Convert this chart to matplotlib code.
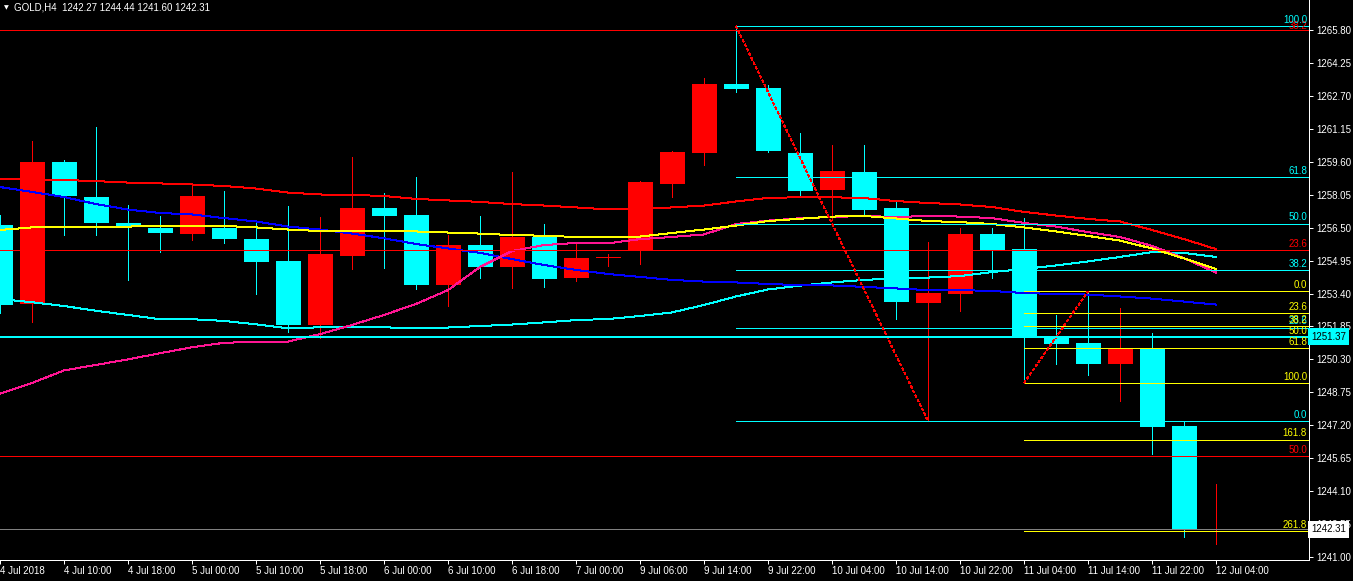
import matplotlib
matplotlib.use("Agg")
import matplotlib.pyplot as plt
from matplotlib.transforms import blended_transform_factory

# ---------------- data ----------------
header_text = "GOLD,H4  1242.27 1244.44 1241.60 1242.31"

opens = [1256.62, 1252.92, 1259.59, 1257.94, 1256.72, 1256.48, 1256.21, 1256.48, 1255.96, 1254.93,
         1251.93, 1255.18, 1257.42, 1257.09, 1253.81, 1255.68, 1254.66, 1256.06, 1254.14, 1255.05,
         1255.45, 1258.57, 1260.01, 1263.26, 1263.07, 1260.01, 1258.27, 1259.12, 1257.42, 1252.95,
         1253.39, 1256.20, 1255.49, 1251.34, 1251.07, 1250.10, 1250.79, 1247.16, 1242.27]
highs = [1257.10, 1260.58, 1259.68, 1261.24, 1257.56, 1257.05, 1258.55, 1258.22, 1256.72, 1257.52,
         1257.00, 1259.82, 1258.13, 1258.88, 1256.15, 1257.05, 1259.12, 1256.67, 1255.73, 1255.26,
         1258.69, 1260.10, 1263.54, 1265.98, 1263.21, 1260.95, 1260.39, 1260.39, 1257.75, 1255.82,
         1256.48, 1256.48, 1256.95, 1252.39, 1253.48, 1252.72, 1251.54, 1247.35, 1244.44]
lows = [1252.50, 1252.07, 1256.15, 1256.15, 1254.05, 1255.37, 1255.93, 1255.79, 1253.39, 1251.60,
        1251.32, 1254.57, 1254.61, 1253.63, 1252.83, 1254.14, 1253.67, 1253.72, 1254.00, 1254.71,
        1254.80, 1257.96, 1259.45, 1262.88, 1260.08, 1257.96, 1256.86, 1257.09, 1252.20, 1247.40,
        1252.59, 1254.14, 1249.19, 1250.10, 1249.58, 1248.36, 1245.86, 1241.96, 1241.60]
closes = [1252.86, 1259.59, 1258.00, 1256.73, 1256.58, 1256.25, 1257.99, 1255.96, 1254.88, 1251.93,
          1255.26, 1257.42, 1257.06, 1253.81, 1255.68, 1254.66, 1256.06, 1254.10, 1255.07, 1255.07,
          1258.65, 1260.06, 1263.26, 1263.02, 1260.12, 1258.22, 1259.16, 1257.33, 1253.00, 1253.42,
          1256.20, 1255.45, 1251.35, 1251.02, 1250.10, 1250.79, 1247.12, 1242.30, 1242.31]

time_labels = ["4 Jul 2018", "4 Jul 10:00", "4 Jul 18:00", "5 Jul 00:00", "5 Jul 10:00",
               "5 Jul 18:00", "6 Jul 00:00", "6 Jul 10:00", "6 Jul 18:00", "7 Jul 00:00",
               "9 Jul 06:00", "9 Jul 14:00", "9 Jul 22:00", "10 Jul 04:00", "10 Jul 14:00",
               "10 Jul 22:00", "11 Jul 04:00", "11 Jul 14:00", "11 Jul 22:00", "12 Jul 04:00"]

price_ticks = [1241.00, 1242.55, 1244.10, 1245.65, 1247.20, 1248.75, 1250.30, 1251.85, 1253.40,
               1254.95, 1256.50, 1258.05, 1259.60, 1261.15, 1262.70, 1264.25, 1265.80]

ma_red = [1258.79, 1258.76, 1258.74, 1258.69, 1258.62, 1258.58, 1258.53, 1258.46, 1258.34, 1258.15,
          1258.06, 1258.04, 1257.99, 1257.85, 1257.78, 1257.71, 1257.61, 1257.54, 1257.45, 1257.36,
          1257.39, 1257.45, 1257.54, 1257.73, 1257.90, 1257.93, 1257.93, 1257.89, 1257.75, 1257.66,
          1257.59, 1257.47, 1257.24, 1257.07, 1256.91, 1256.79, 1256.39, 1255.96, 1255.49]
ma_yellow = [1256.39, 1256.51, 1256.53, 1256.55, 1256.55, 1256.58, 1256.58, 1256.58, 1256.51, 1256.41,
             1256.34, 1256.36, 1256.36, 1256.32, 1256.27, 1256.22, 1256.15, 1256.12, 1256.06, 1256.04,
             1256.08, 1256.25, 1256.41, 1256.60, 1256.81, 1256.92, 1257.02, 1257.05, 1256.93, 1256.81,
             1256.76, 1256.67, 1256.51, 1256.32, 1256.11, 1255.89, 1255.52, 1255.05, 1254.55]
ma_pink = [1248.69, 1249.19, 1249.78, 1250.04, 1250.30, 1250.59, 1250.87, 1251.08, 1251.13, 1251.14,
           1251.49, 1251.92, 1252.39, 1252.91, 1253.56, 1254.65, 1255.40, 1255.68, 1255.78, 1255.76,
           1255.96, 1256.06, 1256.18, 1256.67, 1256.83, 1256.94, 1257.00, 1257.05, 1257.00, 1257.05,
           1257.02, 1256.95, 1256.72, 1256.55, 1256.29, 1256.06, 1255.64, 1255.06, 1254.39]
ma_blue = [1258.41, 1258.18, 1257.94, 1257.61, 1257.35, 1257.19, 1257.12, 1256.95, 1256.79, 1256.55,
           1256.41, 1256.22, 1256.00, 1255.73, 1255.52, 1255.31, 1255.02, 1254.74, 1254.51, 1254.32,
           1254.18, 1254.04, 1253.96, 1253.92, 1253.85, 1253.79, 1253.78, 1253.71, 1253.64, 1253.56,
           1253.56, 1253.52, 1253.42, 1253.38, 1253.35, 1253.26, 1253.16, 1253.02, 1252.88]
ma_cyan = [1253.14, 1252.99, 1252.81, 1252.59, 1252.39, 1252.19, 1252.19, 1252.11, 1251.95, 1251.76,
           1251.81, 1251.81, 1251.81, 1251.76, 1251.80, 1251.87, 1251.94, 1252.04, 1252.15, 1252.20,
           1252.34, 1252.51, 1252.86, 1253.26, 1253.59, 1253.77, 1253.92, 1254.04, 1254.11, 1254.15,
           1254.22, 1254.41, 1254.55, 1254.72, 1254.91, 1255.12, 1255.35, 1255.31, 1255.12]

red_levels = [1265.80, 1255.45, 1245.75]
red_level_labels = ["38.2", "23.6", "50.0"]
cyan_level = 1251.37
bid_price = 1242.31

fib1_bars = (23, 29)
fib1_high, fib1_low = 1265.98, 1247.40
fib1_ratios = [0.0, 23.6, 38.2, 50.0, 61.8, 100.0]

fib2_bars = (32, 34)
fib2_low, fib2_high = 1249.19, 1253.50
fib2_ratios = [0.0, 23.6, 38.2, 50.0, 61.8, 100.0, 161.8, 261.8]

# ---------------- style ----------------
W, H, DPI = 1353, 581, 100
PX = 0.72  # one pixel in points
BULL, BEAR = "#FF0000", "#00FFFF"
FONT = "Liberation Sans"
FS = 7.0

plt.rcParams["lines.antialiased"] = False
plt.rcParams["patch.antialiased"] = False
plt.rcParams["lines.scale_dashes"] = False
plt.rcParams["font.family"] = [FONT, "DejaVu Sans"]

fig = plt.figure(figsize=(W / DPI, H / DPI), dpi=DPI, facecolor="black")
ax = fig.add_axes([0, 21 / H, 1309 / W, 560 / H], facecolor="black")

px_per_bar = 32.0
ax.set_xlim(0, 1309 / px_per_bar)
ax.set_ylim(1240.859, 1267.212)

n = len(opens)
xs = list(range(n))

# candles
for i in xs:
    o, h, l, c = opens[i], highs[i], lows[i], closes[i]
    col = BULL if c >= o else BEAR
    ax.vlines(i, l, h, color=col, lw=PX, zorder=2)
    bottom = min(o, c)
    height = max(abs(c - o), 0.07)
    ax.bar(i, height, bottom=bottom, width=25 / px_per_bar, color=col, linewidth=0, zorder=2)

# moving averages
for series, col in [(ma_cyan, "#00FFFF"), (ma_blue, "#0000FF"), (ma_pink, "#FF1493"),
                    (ma_yellow, "#FFFF00"), (ma_red, "#FF0000")]:
    ax.plot(xs, series, color=col, lw=PX, zorder=3)

label_x = 1307 / px_per_bar
right_x = 1309 / px_per_bar


def level_label(y, text, col):
    ax.annotate(text, (label_x, y), xytext=(0, 1), textcoords="offset points",
                ha="right", va="bottom", color=col, fontsize=FS, zorder=6)


# full-width red lines
for y, t in zip(red_levels, red_level_labels):
    ax.hlines(y, 0, right_x, color="#FF0000", lw=PX, zorder=4)
    level_label(y - 0.12 if t == "38.2" else y, t, "#FF0000")

DOT = (0, (1.6, 1.6))

# cyan fib retracement
x0 = fib1_bars[0]
for r in fib1_ratios:
    y = fib1_low + r / 100.0 * (fib1_high - fib1_low)
    ax.hlines(y, x0, right_x, color="#00FFFF", lw=PX, zorder=4)
    level_label(y, f"{r:.1f}", "#00FFFF")
ax.plot(fib1_bars, [fib1_high, fib1_low], color="#FF0000", lw=PX, ls=DOT, zorder=4)

# yellow fib expansion
x0 = fib2_bars[0]
for r in fib2_ratios:
    y = fib2_high - r / 100.0 * (fib2_high - fib2_low)
    ax.hlines(y, x0, right_x, color="#FFFF00", lw=PX, zorder=4)
    level_label(y, f"{r:.1f}", "#FFFF00")
ax.plot(fib2_bars, [fib2_low, fib2_high], color="#FF0000", lw=PX, ls=DOT, zorder=4)

# cyan horizontal level and bid line
ax.hlines(cyan_level, 0, right_x, color="#00FFFF", lw=2 * PX, zorder=4)
ax.hlines(bid_price, 0, right_x, color="#808080", lw=PX, zorder=4)

# axes
for s in ["top", "left"]:
    ax.spines[s].set_visible(False)
for s in ["right", "bottom"]:
    ax.spines[s].set_color("white")
    ax.spines[s].set_linewidth(PX)

ax.yaxis.tick_right()
ax.set_yticks(price_ticks)
ax.set_yticklabels([f"{p:.2f}" for p in price_ticks])
ax.tick_params(axis="y", colors="white", labelcolor="white", labelsize=FS, length=3,
               width=PX, direction="out", pad=2)
ax.set_xticks(xs[::2])
ax.set_xticklabels(time_labels)
ax.tick_params(axis="x", colors="white", labelcolor="white", labelsize=FS, length=3,
               width=PX, direction="out", pad=1.5)
for lbl in ax.get_xticklabels():
    lbl.set_ha("left")

# price boxes on the scale
bt = blended_transform_factory(ax.transAxes, ax.transData)
ax.text(1.0015, cyan_level, f"{cyan_level:.2f}", transform=bt, ha="left", va="center",
        color="black", fontsize=FS, zorder=7, clip_on=False,
        bbox=dict(boxstyle="square,pad=0.35", fc="#00FFFF", ec="none"))
ax.text(1.0015, bid_price, f"{bid_price:.2f}", transform=bt, ha="left", va="center",
        color="black", fontsize=FS, zorder=7, clip_on=False,
        bbox=dict(boxstyle="square,pad=0.35", fc="white", ec="none"))

# header
fig.text(4 / W, 1 - 8 / H, "\u25BC", color="white", fontsize=4.5, va="center", ha="left",
         family="DejaVu Sans")
fig.text(14 / W, 1 - 8 / H, header_text, color="white", fontsize=FS, va="center", ha="left")

fig.savefig("out.png", dpi=DPI, facecolor="black")
